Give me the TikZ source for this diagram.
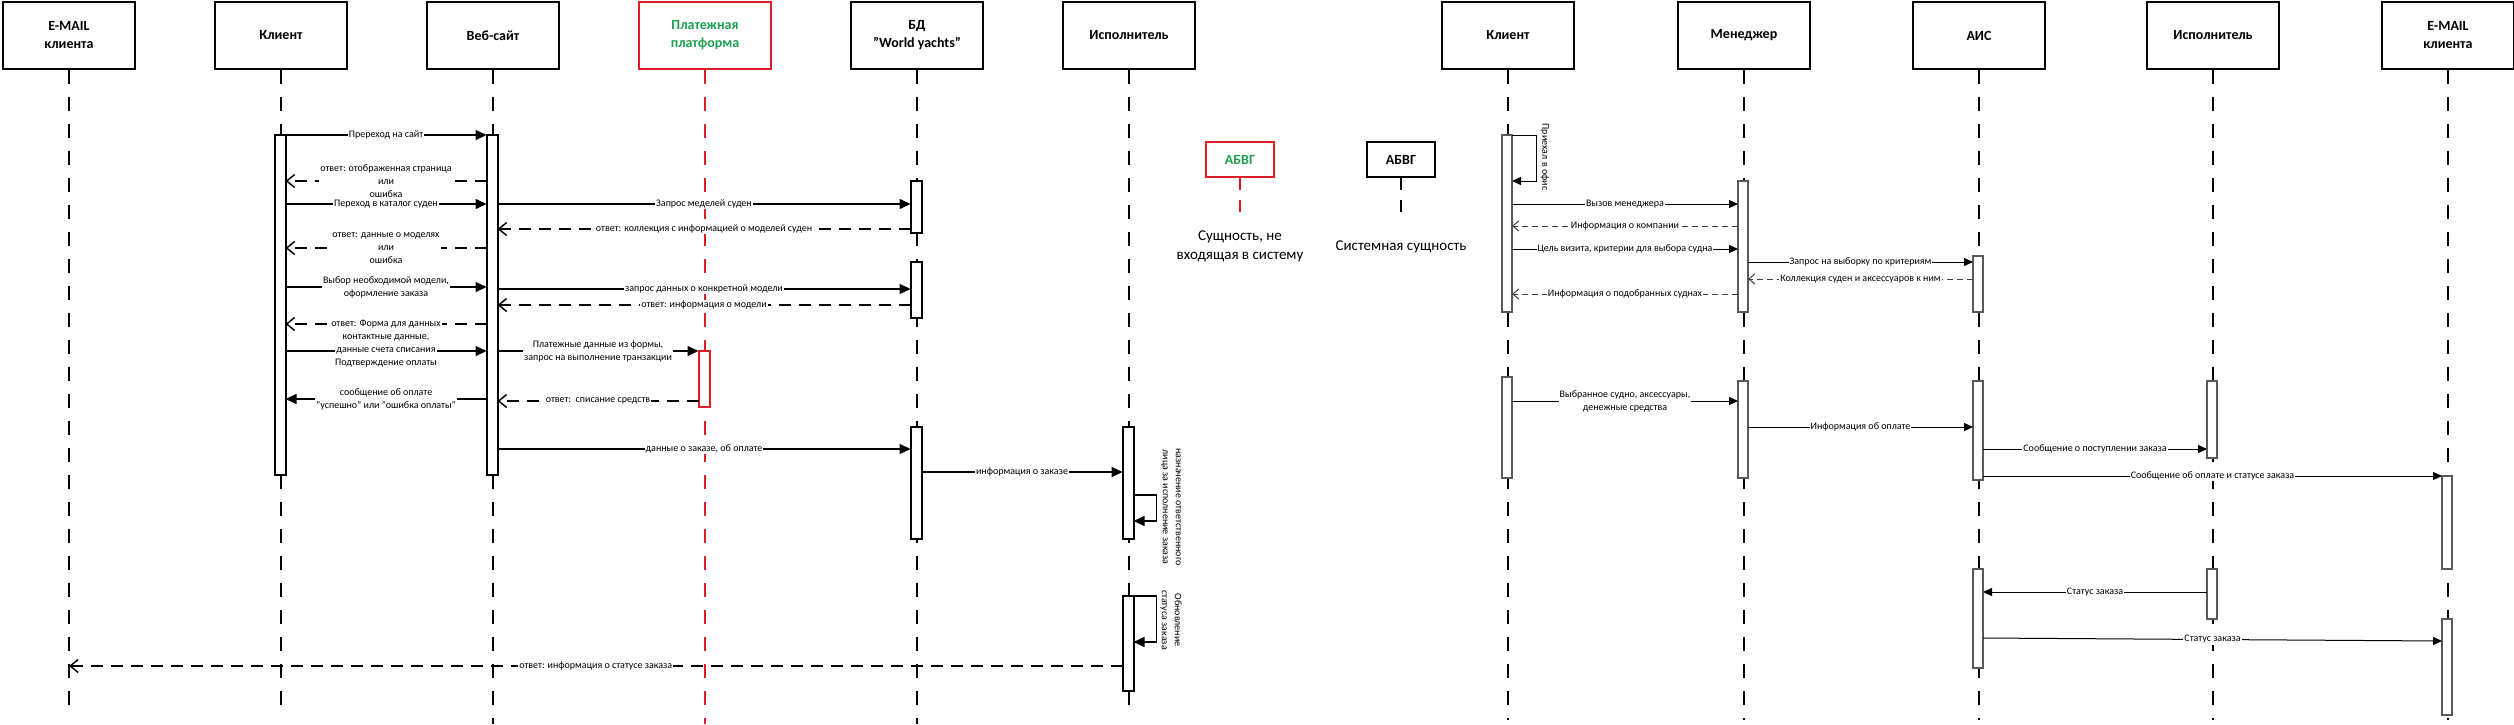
\documentclass[tikz,border=0pt]{standalone}
\usepackage{fontspec}
\setmainfont{Carlito}
\usetikzlibrary{arrows.meta}
\definecolor{pred}{RGB}{220,30,40}
\definecolor{pgreen}{RGB}{30,160,80}
\newcommand{\hdfont}{\fontsize{14}{18}\selectfont\bfseries}
\newcommand{\lbfont}{\fontsize{10}{13}\selectfont}
\newcommand{\lgfont}{\fontsize{15}{19}\selectfont}
\begin{document}
\begin{tikzpicture}[x=1pt,y=-1pt,
  head/.style={draw,line width=2pt,minimum width=132pt,minimum height=67pt,anchor=north west,align=center,font=\hdfont,inner sep=0pt,fill=white},
  life/.style={line width=2pt,dash pattern=on 14pt off 13pt},
  bar/.style={draw,fill=white,line width=2pt,minimum width=11pt,anchor=north,inner sep=0pt,outer sep=0pt},
  rbar/.style={draw=black!65,fill=white,line width=1.2pt,minimum width=10pt,anchor=north,inner sep=0pt,outer sep=0pt},
  msg/.style={line width=1.5pt,-{Triangle[length=11pt,width=10pt]}},
  ret/.style={line width=1.5pt,dash pattern=on 12pt off 8pt,-{Straight Barb[length=8pt,width=13pt]}},
  rmsg/.style={line width=1pt,-{Triangle[length=9pt,width=8pt]}},
  rret/.style={line width=1pt,draw=black!75,dash pattern=on 6pt off 4pt,-{Straight Barb[length=6pt,width=10pt]}},
  lbl/.style={fill=white,inner sep=1pt,font=\lbfont,align=center},
  rlbl/.style={inner sep=1pt,font=\lbfont,align=center,rotate=-90},
  legbox/.style={draw,line width=2pt,minimum width=68pt,minimum height=35pt,inner sep=0pt,font=\hdfont}
]
\useasboundingbox (0,0) rectangle (2514,724);
\fill[white] (0,0) rectangle (2514,724);

% ---------- left diagram: heads ----------
\node[head] (h1) at (2,1) {E-MAIL\\клиента};
\node[head] (h2) at (214,1) {Клиент};
\node[head] (h3) at (426,1) {Веб-сайт};
\node[head,draw=pred,text=pgreen] (h4) at (638,1) {Платежная\\платформа};
\node[head] (h5) at (850,1) {БД\\"World yachts"};
\node[head] (h6) at (1062,1) {Исполнитель};

\draw[life] (h1.south) -- (h1.south |- 0,715);
\draw[life] (h2.south) -- (h2.south |- 0,715);
\draw[life] (h3.south) -- (h3.south |- 0,724);
\draw[life,draw=pred] (h4.south) -- (h4.south |- 0,724);
\draw[life] (h5.south) -- (h5.south |- 0,724);
\draw[life] (h6.south) -- (h6.south |- 0,715);

% bars
\node[bar,minimum height=340pt] (cb1) at (280,135) {};
\node[bar,minimum height=340pt] (wb1) at (492,135) {};
\node[bar,minimum height=52pt] (db1) at (916,181) {};
\node[bar,minimum height=56pt] (db2) at (916,262) {};
\node[bar,draw=pred,minimum height=56pt] (pb1) at (704,351) {};
\node[bar,minimum height=112pt] (db3) at (916,427) {};
\node[bar,minimum height=112pt] (eb1) at (1128,427) {};
\node[bar,minimum height=95pt] (eb2) at (1128,596) {};

% messages
\draw[msg] (cb1.east |- 0,135) -- (wb1.west |- 0,135) node[lbl,midway] {Пререход на сайт};
\draw[ret] (wb1.west |- 0,181) -- (cb1.east |- 0,181) node[lbl,midway] {ответ: отображенная страница\\или\\ошибка};
\draw[msg] (cb1.east |- 0,204) -- (wb1.west |- 0,204) node[lbl,midway] {Переход в каталог суден};
\draw[msg] (wb1.east |- 0,204) -- (db1.west |- 0,204) node[lbl,midway] {Запрос меделей суден};
\draw[ret] (db1.west |- 0,229) -- (wb1.east |- 0,229) node[lbl,midway] {ответ: коллекция с информацией о моделей суден};
\draw[ret] (wb1.west |- 0,248) -- (cb1.east |- 0,248) node[lbl,midway] {ответ: данные о моделях\\или\\ошибка};
\draw[msg] (cb1.east |- 0,287) -- (wb1.west |- 0,287) node[lbl,midway] {Выбор необходимой модели,\\оформление заказа};
\draw[msg] (wb1.east |- 0,289) -- (db2.west |- 0,289) node[lbl,midway] {запрос данных о конкретной модели};
\draw[ret] (db2.west |- 0,305) -- (wb1.east |- 0,305) node[lbl,midway] {ответ: информация о модели};
\draw[ret] (wb1.west |- 0,324) -- (cb1.east |- 0,324) node[lbl,midway] {ответ: Форма для данных};
\draw[msg] (cb1.east |- 0,351) -- (wb1.west |- 0,351) node[lbl,midway,inner sep=0.5pt] {контактные данные,\\данные счета списания\\Подтверждение оплаты};
\draw[msg] (wb1.east |- 0,351) -- (pb1.west |- 0,351) node[lbl,midway] {Платежные данные из формы,\\запрос на выполнение транзакции};
\draw[ret] (pb1.west |- 0,401) -- (wb1.east |- 0,401) node[lbl,midway] {ответ:\ \ списание средств};
\draw[msg] (wb1.west |- 0,399) -- (cb1.east |- 0,399) node[lbl,midway] {сообщение об оплате\\"успешно" или "ошибка оплаты"};
\draw[msg] (wb1.east |- 0,449) -- (db3.west |- 0,449) node[lbl,midway] {данные о заказе, об оплате};
\draw[msg] (db3.east |- 0,472) -- (eb1.west |- 0,472) node[lbl,midway] {информация о заказе};
\draw[msg] (eb1.east |- 0,495) -- ++(23,0) -- ++(0,26) -- (eb1.east |- 0,521);
\node[rlbl] (t1) at (1171,507) {назначение ответственного\\лица за исполнение заказа};
\draw[msg] (eb2.east |- 0,596) -- ++(23,0) -- ++(0,46) -- (eb2.east |- 0,642);
\node[rlbl] (t2) at (1171,620) {Обновление\\статуса заказа};
\draw[ret] (eb2.west |- 0,666) -- (h1.south |- 0,666) node[lbl,midway] {ответ: информация о статусе заказа};

% ---------- legend ----------
\node[legbox,draw=pred,text=pgreen] (lg1) at (1240,159.5) {АБВГ};
\draw[draw=pred,line width=2pt,dash pattern=on 12pt off 10pt] (lg1.south) -- ++(0,38);
\node[font=\lgfont,align=center] (lt1) at (1240,246) {Сущность, не\\входящая в систему};
\node[legbox] (lg2) at (1401,159.5) {АБВГ};
\draw[line width=2pt,dash pattern=on 12pt off 10pt] (lg2.south) -- ++(0,38);
\node[font=\lgfont] (lt2) at (1401,247) {Системная сущность};

% ---------- right diagram ----------
\node[head] (k1) at (1441,1) {Клиент};
\node[head] (k2) at (1677,1) {Менеджер};
\node[head] (k3) at (1912,1) {АИС};
\node[head] (k4) at (2146,1) {Исполнитель};
\node[head] (k5) at (2381,1) {E-MAIL\\клиента};
\foreach \k in {k1,k2,k3,k4,k5}
  \draw[life] (\k.south) -- (\k.south |- 0,720);

\node[rbar,minimum height=177pt] (rc1) at (1507,135) {};
\node[rbar,minimum height=131pt] (rm1) at (1743,181) {};
\node[rbar,minimum height=56pt] (ra1) at (1978,256) {};
\node[rbar,minimum height=101pt] (rc2) at (1507,377) {};
\node[rbar,minimum height=97pt] (rm2) at (1743,381) {};
\node[rbar,minimum height=99pt] (ra2) at (1978,381) {};
\node[rbar,minimum height=77pt] (ri1) at (2212,381) {};
\node[rbar,minimum height=93pt] (rmail1) at (2447,476) {};
\node[rbar,minimum height=99pt] (ra3) at (1978,569) {};
\node[rbar,minimum height=50pt] (ri2) at (2212,569) {};
\node[rbar,minimum height=96pt] (rmail2) at (2447,619) {};

\draw[rmsg] (rc1.east |- 0,135) -- ++(24,0) -- ++(0,46) -- (rc1.east |- 0,181);
\node[rlbl] (t3) at (1545,157) {Приехал в офис};
\draw[rmsg] (rc1.east |- 0,204) -- (rm1.west |- 0,204) node[lbl,midway] {Вызов менеджера};
\draw[rret] (rm1.west |- 0,226) -- (rc1.east |- 0,226) node[lbl,midway] {Информация о компании};
\draw[rmsg] (rc1.east |- 0,249) -- (rm1.west |- 0,249) node[lbl,midway] {Цель визита, критерии для выбора судна};
\draw[rmsg] (rm1.east |- 0,262) -- (ra1.west |- 0,262) node[lbl,midway] {Запрос на выборку по критериям};
\draw[rret] (ra1.west |- 0,279) -- (rm1.east |- 0,279) node[lbl,midway] {Коллекция суден и аксессуаров к ним};
\draw[rret] (rm1.west |- 0,294) -- (rc1.east |- 0,294) node[lbl,midway] {Информация о подобранных суднах};
\draw[rmsg] (rc2.east |- 0,401) -- (rm2.west |- 0,401) node[lbl,midway] {Выбранное судно, аксессуары,\\денежные средства};
\draw[rmsg] (rm2.east |- 0,427) -- (ra2.west |- 0,427) node[lbl,midway] {Информация об оплате};
\draw[rmsg] (ra2.east |- 0,449) -- (ri1.west |- 0,449) node[lbl,midway] {Сообщение о поступлении заказа};
\draw[rmsg] (ra2.east |- 0,476) -- (rmail1.west |- 0,476) node[lbl,midway] {Сообщение об оплате и статусе заказа};
\draw[rmsg] (ri2.west |- 0,592) -- (ra3.east |- 0,592) node[lbl,midway] {Статус заказа};
\draw[rmsg] (ra3.east |- 0,638) -- (rmail2.west |- 0,641) node[lbl,midway] {Статус заказа};
\end{tikzpicture}
\end{document}
